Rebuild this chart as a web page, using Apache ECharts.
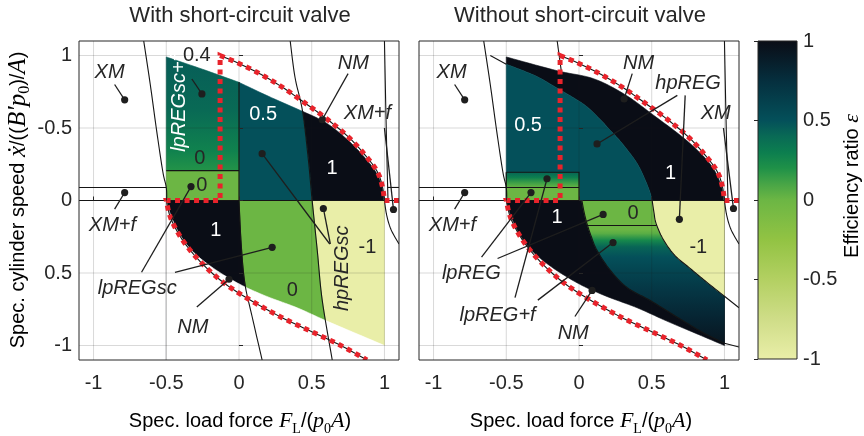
<!DOCTYPE html>
<html>
<head>
<meta charset="utf-8">
<script src="https://cdn.jsdelivr.net/npm/echarts@6/dist/echarts.min.js"></script>
<style>
html,body{margin:0;padding:0;background:#fff;}
#chart{width:864px;height:436px;}
</style>
</head>
<body>
<div id="chart"></div>
<script>
// ---- ticks ----
const xTickValues = [-1, -0.5, 0, 0.5, 1];
const xTickLabels = ['-1', '-0.5', '0', '0.5', '1'];
const yTickValues = [1, 0.5, 0, -0.5, -1];
const yTickLabels = ['1', '-0.5', '0', '0.5', '-1'];
const cbTickValues = [-1, -0.5, 0, 0.5, 1];
const cbTickLabels = ['-1', '-0.5', '0', '0.5', '1'];

// ---- colour map of the efficiency ratio ----
const cmapValues = [-1, -0.75, -0.5, -0.25, 0, 0.1, 0.2, 0.3, 0.4, 0.5, 0.6, 0.75, 0.9, 1];
const cmapColors = ['#e9eea8', '#cfdd88', '#b3d062', '#92c343', '#6cb644', '#48a546', '#1f9148',
                    '#0c7e4f', '#096a55', '#04505a', '#04434f', '#052f3e', '#081a26', '#0a0d16'];

// ---- boundary curves: [load force, speed] (speed axis drawn with +1 at the top) ----
// operating limit (red dotted)
const limitUpper = [[1.0, 0], [0.985, 0.1], [0.95, 0.2], [0.87, 0.31], [0.75, 0.44], [0.6, 0.565],
                    [0.45, 0.675], [0.3, 0.78], [0.15, 0.87], [0, 0.945], [-0.13, 1.0]];
const limitLower = [[-0.5, 0], [-0.47, -0.12], [-0.4, -0.255], [-0.3, -0.385], [-0.18, -0.505],
                    [-0.06, -0.6], [0.1, -0.7], [0.3, -0.81], [0.5, -0.905], [0.7, -1.0], [0.88, -1.1]];
// XM borders
const xmLeft = [[-0.655, 1.1], [-0.61, 0.8], [-0.566, 0.48], [-0.524, 0.2], [-0.5, 0.09], [-0.497, 0]];
const xmRightUp = [[1.0, 1.1], [1.01, 0.6], [1.022, 0.09], [1.025, 0]];
const xmRightLow = [[1.0, 0], [1.015, -0.1], [1.045, -0.2], [1.1, -0.3]];
// lower edge of the reachable region
const reachLower = [[-0.5, 0], [-0.47, -0.1], [-0.41, -0.23], [-0.32, -0.35], [-0.2, -0.45], [-0.07, -0.535],
                    [0.05, -0.6], [0.2, -0.665], [0.4, -0.74], [0.6, -0.83], [0.8, -0.915], [1.0, -1.0]];

// with short-circuit valve
const scTop = [[-0.5, 0.99], [-0.25, 0.905], [0, 0.815], [0.2, 0.72], [0.437, 0.615]];
const scHpBorder = [[0.352, 1.1], [0.385, 0.85], [0.437, 0.615], [0.475, 0.3], [0.503, 0],
                    [0.538, -0.344], [0.572, -0.687], [0.641, -1.1]];
const scNmTop = [[0.437, 0.615], [0.6, 0.535], [0.75, 0.415], [0.87, 0.29], [0.95, 0.18], [0.985, 0.08], [0.995, 0]];
const scLpBorder = [[0, 0], [0.015, -0.3], [0.04, -0.57], [0.09, -0.8], [0.159, -1.1]];
const scFreeTop = 0.206;

// without short-circuit valve
const nsTop = [[-0.5, 0.99], [-0.15, 0.895], [0.1, 0.84], [0.317, 0.73], [0.51, 0.59], [0.745, 0.41],
               [0.903, 0.25], [0.975, 0.11], [0.995, 0]];
const nsHpBorder = [[-0.5, 0.94], [-0.3, 0.86], [-0.15, 0.775], [0.03, 0.665], [0.13, 0.575], [0.214, 0.485],
                    [0.3, 0.39], [0.4, 0.255], [0.46, 0.13], [0.49, 0.05], [0.503, 0]];
const nsFreeBorder = [[0.02, 0], [0.035, -0.08], [0.055, -0.16], [0.085, -0.25], [0.124, -0.344], [0.214, -0.48],
                      [0.33, -0.6], [0.49, -0.69], [0.7, -0.82], [0.85, -0.91], [1.0, -0.985]];
const nsHpLower = [[0.503, 0], [0.515, -0.08], [0.53, -0.158], [0.58, -0.27], [0.66, -0.38], [0.766, -0.47],
                   [0.88, -0.565], [1.0, -0.66]];
const nsBandTop = 0.195, nsBandMid = 0.09, nsBandLow = -0.172;

// efficiency ratios of the regions
const effLpREG = 1, effHpREG = 0.5, effFree = 0, effHpREGsc = -1;
// efficiency along speed inside graded regions: [speed, efficiency]
const gradScFree = [[0.99, 0.45], [0.62, 0.4], [0.34, 0.28], [0.206, 0.19]];
const gradNsBand = [[0.195, 0.42], [0.16, 0.3], [0.12, 0.12], [0.09, 0.02]];
const gradNsFree = [[0, 0], [-0.2, 0], [-0.227, 0.05], [-0.275, 0.25], [-0.32, 0.42], [-0.39, 0.5],
                    [-0.5, 0.6], [-0.62, 0.7], [-0.8, 0.82], [-1.0, 0.95]];

// ---- annotations: text anchor and pointer segments [x0, y0, dotX, dotY] ----
const notesSc = [
  { text: 'XM', at: [-0.89, 0.88], it: 1, ptr: [[-0.855, 0.80, -0.786, 0.694]] },
  { text: 'XM+f', at: [-0.87, -0.17], it: 1, ptr: [[-0.855, -0.06, -0.786, 0.055]] },
  { text: 'lpREGsc+f', at: [-0.407, 0.667], it: 1, white: 1, rot: 1, ptr: [[-0.324, 0.838, -0.255, 0.735]] },
  { text: '0.4', at: [-0.29, 0.997] },
  { text: '0', at: [-0.27, 0.289] },
  { text: '0', at: [-0.255, 0.103] },
  { text: '0.5', at: [0.166, 0.59], white: 1 },
  { text: '1', at: [0.64, 0.22], white: 1 },
  { text: 'NM', at: [0.786, 0.948], it: 1, ptr: [[0.75, 0.875, 0.572, 0.557]] },
  { text: 'XM+f', at: [0.883, 0.598], it: 1, ptr: [[1.0, 0.5, 1.062, -0.062]] },
  { text: '1', at: [-0.16, -0.206], white: 1 },
  { text: 'lpREGsc', at: [-0.70, -0.605], it: 1, ptr: [[-0.67, -0.495, -0.33, 0.096], [-0.44, -0.495, 0.228, -0.323]] },
  { text: 'NM', at: [-0.317, -0.873], it: 1, ptr: [[-0.29, -0.735, -0.069, -0.543]] },
  { text: '0', at: [0.366, -0.62] },
  { text: 'hpREGsc', at: [0.71, -0.467], it: 1, rot: 1, ptr: [[0.628, -0.30, 0.58, -0.055], [0.624, -0.30, 0.159, 0.323]] },
  { text: '-1', at: [0.883, -0.323] }
];
const notesNs = [
  { text: 'XM', at: [-0.876, 0.88], it: 1, ptr: [[-0.855, 0.80, -0.786, 0.694]] },
  { text: 'XM+f', at: [-0.87, -0.17], it: 1, ptr: [[-0.855, -0.06, -0.786, 0.055]] },
  { text: '0.5', at: [-0.35, 0.515], white: 1 },
  { text: 'NM', at: [0.41, 0.948], it: 1, ptr: [[0.366, 0.875, 0.31, 0.70]] },
  { text: 'hpREG', at: [0.75, 0.81], it: 1, ptr: [[0.676, 0.725, 0.124, 0.39], [0.73, 0.725, 0.69, -0.13]] },
  { text: 'XM', at: [0.94, 0.6], it: 1, ptr: [[0.993, 0.5, 1.062, -0.055]] },
  { text: '1', at: [0.63, 0.185], white: 1 },
  { text: '1', at: [-0.15, -0.115], white: 1 },
  { text: '0', at: [0.372, -0.09] },
  { text: '-1', at: [0.82, -0.323] },
  { text: 'lpREG', at: [-0.74, -0.5], it: 1, ptr: [[-0.67, -0.39, -0.33, 0.055], [-0.56, -0.40, 0.166, -0.096]] },
  { text: 'lpREG+f', at: [-0.56, -0.79], it: 1, ptr: [[-0.44, -0.67, -0.22, 0.15], [-0.283, -0.687, 0.234, -0.29]] },
  { text: 'NM', at: [-0.04, -0.914], it: 1, ptr: [[-0.028, -0.80, 0.09, -0.62]] }
];

// ---- helpers ----
const INK = '#262626';
const FONT = '"Liberation Sans", Arial, sans-serif';
const MATH = '"Liberation Serif", serif';
const FS = 20;

function rgb(h) { const n = parseInt(h.slice(1), 16); return [(n >> 16) & 255, (n >> 8) & 255, n & 255]; }
function cmap(v) {
  if (v <= cmapValues[0]) return cmapColors[0];
  for (let i = 1; i < cmapValues.length; i++) {
    if (v <= cmapValues[i]) {
      const t = (v - cmapValues[i - 1]) / (cmapValues[i] - cmapValues[i - 1]);
      const a = rgb(cmapColors[i - 1]), b = rgb(cmapColors[i]);
      return 'rgb(' + a.map((c, k) => Math.round(c + (b[k] - c) * t)).join(',') + ')';
    }
  }
  return cmapColors[cmapColors.length - 1];
}
const rev = a => a.slice().reverse();
const between = (a, lo, hi) => a.filter(p => p[1] >= lo && p[1] <= hi);
const C = pts => ({ c: pts });   // a smooth curve piece of an outline

// draws a smooth path through screen points (cubic pieces, Catmull-Rom tangents)
function smoothPx(P) {
  if (P.length < 3) return P;
  const out = [P[0]];
  for (let i = 0; i < P.length - 1; i++) {
    const p0 = P[Math.max(i - 1, 0)], p1 = P[i], p2 = P[i + 1], p3 = P[Math.min(i + 2, P.length - 1)];
    const b1 = [p1[0] + (p2[0] - p0[0]) / 6, p1[1] + (p2[1] - p0[1]) / 6];
    const b2 = [p2[0] - (p3[0] - p1[0]) / 6, p2[1] - (p3[1] - p1[1]) / 6];
    for (let k = 1; k <= 10; k++) {
      const t = k / 10, u = 1 - t;
      out.push([u * u * u * p1[0] + 3 * u * u * t * b1[0] + 3 * u * t * t * b2[0] + t * t * t * p2[0],
                u * u * u * p1[1] + 3 * u * u * t * b1[1] + 3 * u * t * t * b2[1] + t * t * t * p2[1]]);
    }
  }
  return out;
}
function outlinePx(api, parts) {
  const out = [];
  parts.forEach(q => {
    if (q.c) out.push(...smoothPx(q.c.map(p => api.coord(p))));
    else out.push(api.coord(q));
  });
  return out;
}

// filled regions, drawn in order
const regionsSc = [
  { parts: [C(scNmTop), C(rev(between(scHpBorder, 0, 0.615)))], v: effLpREG },
  { parts: [[0, 0], C(scTop.filter(p => p[0] >= 0)), C(between(scHpBorder, 0, 0.615))], v: effHpREG },
  { parts: [[-0.5, scFreeTop], C(scTop.filter(p => p[0] <= 0)), [0, scFreeTop]], grad: gradScFree },
  { parts: [[-0.5, 0], [-0.5, scFreeTop], [0, scFreeTop], [0, 0]], v: effFree },
  { parts: [C(reachLower), [1.0, 0]], v: effHpREGsc },
  { parts: [C(scLpBorder), C(rev(between(scHpBorder, -2, 0)))], v: effFree },
  { parts: [[-0.5, 0], C(scLpBorder), [-0.5, -1.1]], v: effLpREG },
  { parts: [C(reachLower), [1.0, -1.2], [-0.5, -1.2]], fill: '#ffffff' }
];
const regionsNs = [
  { parts: [C(nsTop), C(rev(nsHpBorder))], v: effLpREG },
  { parts: [[-0.5, 0], C(nsHpBorder)], v: effHpREG },
  { parts: [[-0.5, nsBandMid], [-0.5, nsBandTop], [0, nsBandTop], [0, nsBandMid]], grad: gradNsBand },
  { parts: [[-0.5, 0], [-0.5, nsBandMid], [0, nsBandMid], [0, 0]], v: effFree },
  { parts: [C(reachLower), [1.0, 0]], v: effLpREG },
  { parts: [C(nsFreeBorder), C(rev(nsHpLower))], grad: gradNsFree },
  { parts: [C(nsHpLower), [1.0, 0]], v: effHpREGsc }
];

// thin black borders
const linesSc = [
  [[-1.1, 0], [1.1, 0]], [[-1.1, 0.09], [-0.5, 0.09]], [[1.022, 0.09], [1.1, 0.09]],
  [C(xmLeft)], [C(xmRightUp)], [C(xmRightLow)], [C(scHpBorder)], [C(scLpBorder)],
  [[-0.5, scFreeTop], [0, scFreeTop]], [[0, 0], [0, 0.815]],
  [C(limitUpper)], [C(limitLower)]
];
const linesNs = [
  [[-1.1, 0], [1.1, 0]], [[-1.1, nsBandMid], [0, nsBandMid]],
  [[-0.5, nsBandTop], [0, nsBandTop], [0, 0]], [[-0.5, nsBandTop], [-0.5, 0]],
  [C(xmLeft)], [C(xmRightUp)], [C(xmRightLow)], [[-0.61, 1.0], [-0.5, 0.94]], [[-0.15, 1.1], [-0.12, 0.88]],
  [C(nsFreeBorder), [1.1, -1.01]], [C(nsHpLower), [1.1, -0.74]], [[0.058, nsBandLow], [0.535, nsBandLow]],
  [C(limitUpper)], [C(limitLower)]
];
const limitParts = [[1.1, 0], C(limitUpper), [-0.13, 0], C(limitLower)];

function gradientFill(api, stops) {
  const y0 = api.coord([0, stops[0][0]])[1];
  const y1 = api.coord([0, stops[stops.length - 1][0]])[1];
  return new echarts.graphic.LinearGradient(0, y0, 0, y1,
    stops.map(s => ({ offset: (api.coord([0, s[0]])[1] - y0) / (y1 - y0), color: cmap(s[1]) })), true);
}

function regionSeries(i, regions) {
  return {
    type: 'custom', xAxisIndex: i, yAxisIndex: i, z: 2, silent: true, clip: true,
    data: regions.map(() => [0, 0]),
    renderItem(params, api) {
      const r = regions[params.dataIndex];
      const fill = r.grad ? gradientFill(api, r.grad) : (r.fill || cmap(r.v));
      return { type: 'polygon', shape: { points: outlinePx(api, r.parts) },
               style: { fill: fill, stroke: fill, lineWidth: 0.6 } };
    }
  };
}
function gridSeries(i) {
  const segs = [...xTickValues.map(x => [[x, -1.1], [x, 1.1]]), ...yTickValues.map(y => [[-1.1, y], [1.1, y]])];
  return {
    type: 'custom', xAxisIndex: i, yAxisIndex: i, z: 3, silent: true, clip: true,
    data: segs.map(() => [0, 0]),
    renderItem(params, api) {
      return { type: 'polyline', shape: { points: segs[params.dataIndex].map(p => api.coord(p)) },
               style: { stroke: 'rgba(30,30,30,0.17)', lineWidth: 1, fill: null } };
    }
  };
}
function lineSeries(i, lines) {
  return {
    type: 'custom', xAxisIndex: i, yAxisIndex: i, z: 4, silent: true, clip: true,
    data: lines.map(() => [0, 0]),
    renderItem(params, api) {
      return { type: 'polyline', shape: { points: outlinePx(api, lines[params.dataIndex]) },
               style: { stroke: '#151515', lineWidth: 1.1, fill: null } };
    }
  };
}
function limitSeries(i) {
  return {
    type: 'custom', xAxisIndex: i, yAxisIndex: i, z: 5, silent: true, clip: true,
    data: [[0, 0]],
    renderItem(params, api) {
      return { type: 'polyline', shape: { points: outlinePx(api, limitParts) },
               style: { stroke: '#e8232b', lineWidth: 5, lineDash: [5, 4.5], lineJoin: 'miter', fill: null } };
    }
  };
}
function noteSeries(i, notes) {
  return {
    type: 'custom', xAxisIndex: i, yAxisIndex: i, z: 6, silent: true, clip: false,
    data: notes.map(() => [0, 0]),
    renderItem(params, api) {
      const n = notes[params.dataIndex];
      const children = [];
      (n.ptr || []).forEach(s => {
        const a = api.coord([s[0], s[1]]), b = api.coord([s[2], s[3]]);
        children.push({ type: 'line', shape: { x1: a[0], y1: a[1], x2: b[0], y2: b[1] },
                        style: { stroke: '#1e1e1e', lineWidth: 1.3 } });
        children.push({ type: 'circle', shape: { cx: b[0], cy: b[1], r: 3.6 }, style: { fill: '#1e1e1e' } });
      });
      const c = api.coord(n.at);
      children.push({ type: 'text', x: c[0], y: c[1], rotation: n.rot ? Math.PI / 2 : 0,
        style: { text: n.text, fill: n.white ? '#ffffff' : INK, fontSize: FS, fontFamily: FONT,
                 fontStyle: n.it ? 'italic' : 'normal', align: 'center', verticalAlign: 'middle' } });
      return { type: 'group', children };
    }
  };
}
function colorbarSeries() {
  return {
    type: 'custom', xAxisIndex: 2, yAxisIndex: 2, z: 2, silent: true,
    data: [[0, 0]],
    renderItem(params, api) {
      const a = api.coord([0, 1]), b = api.coord([1, -1]);
      const fill = new echarts.graphic.LinearGradient(0, a[1], 0, b[1],
        cmapValues.map((v, k) => ({ offset: (1 - v) / 2, color: cmapColors[k] })).reverse(), true);
      return { type: 'rect', shape: { x: a[0], y: a[1], width: b[0] - a[0], height: b[1] - a[1] }, style: { fill } };
    }
  };
}

const labelStyle = { fontSize: FS, color: INK, fontFamily: FONT };
function panelX(i) {
  return { gridIndex: i, type: 'value', min: -1.1, max: 1.1, z: 8,
    splitLine: { show: false }, axisLine: { show: false },
    axisTick: { inside: true, length: 4, customValues: xTickValues, lineStyle: { color: INK } },
    axisLabel: Object.assign({ customValues: xTickValues, margin: 13,
      formatter: v => xTickLabels[xTickValues.indexOf(v)] }, labelStyle) };
}
function panelY(i) {
  return { gridIndex: i, type: 'value', min: -1.1, max: 1.1, z: 8,
    splitLine: { show: false }, axisLine: { show: false },
    axisTick: { inside: true, length: 4, customValues: yTickValues, lineStyle: { color: INK } },
    axisLabel: Object.assign({ customValues: yTickValues, margin: 7, show: i === 0,
      formatter: v => yTickLabels[yTickValues.indexOf(v)] }, labelStyle) };
}
const gridBox = { show: true, z: 9, borderColor: INK, borderWidth: 1, backgroundColor: 'transparent', outerBoundsMode: 'none', containLabel: false };

function richSet(mathSize) {
  return {
    a: { fontFamily: FONT, fontSize: FS, color: INK, lineHeight: 30 },
    m: { fontFamily: MATH, fontStyle: 'italic', fontSize: mathSize, color: INK, lineHeight: 30 },
    s: { fontFamily: MATH, fontSize: Math.round(mathSize * 0.64), color: INK, lineHeight: 15, verticalAlign: 'bottom' }
  };
}
const xName = '{a|Spec. load force }{m|F}{s|L}{a|/(}{m|p}{s|0}{m|A}{a|)}';
const yName = '{a|Spec. cylinder speed }{m|ẋ}{a|/((}{m|B′p}{s|0}{a|)/}{m|A}{a|)}';
const cbName = '{a|Efficiency ratio }{m|ε}';

function label(x, y, text, rot, mathSize) {
  return { type: 'text', x, y, rotation: rot ? Math.PI / 2 : 0, z: 10,
           style: { text, rich: richSet(mathSize || 22), align: 'center', verticalAlign: 'middle' } };
}

const option = {
  animation: false,
  backgroundColor: '#ffffff',
  grid: [
    Object.assign({ left: 79, top: 41, width: 320, height: 319 }, gridBox),
    Object.assign({ left: 419, top: 41, width: 320, height: 319 }, gridBox),
    Object.assign({ left: 758, top: 41, width: 39, height: 318 }, gridBox)
  ],
  xAxis: [panelX(0), panelX(1), { gridIndex: 2, type: 'value', min: 0, max: 1, show: false }],
  yAxis: [panelY(0), panelY(1), {
    gridIndex: 2, type: 'value', min: -1, max: 1, interval: 0.5, position: 'right', z: 8,
    splitLine: { show: false }, axisLine: { show: false },
    axisTick: { inside: true, length: 4, lineStyle: { color: INK } },
    axisLabel: Object.assign({ margin: 6, formatter: v => cbTickLabels[cbTickValues.indexOf(v)] }, labelStyle)
  }],
  graphic: [
    { type: 'text', x: 240, y: 16, style: { text: 'With short-circuit valve', font: '22px ' + FONT, fill: INK, align: 'center', verticalAlign: 'middle' } },
    { type: 'text', x: 580, y: 16, style: { text: 'Without short-circuit valve', font: '22px ' + FONT, fill: INK, align: 'center', verticalAlign: 'middle' } },
    label(240, 421, xName), label(581, 421, xName),
    label(18, 200, yName, true, 25),
    label(852, 186, cbName, true)
  ],
  series: [
    regionSeries(0, regionsSc), gridSeries(0), lineSeries(0, linesSc), limitSeries(0), noteSeries(0, notesSc),
    regionSeries(1, regionsNs), gridSeries(1), lineSeries(1, linesNs), limitSeries(1), noteSeries(1, notesNs),
    colorbarSeries()
  ]
};

const chart = echarts.init(document.getElementById('chart'));
chart.setOption(option);
</script>
</body>
</html>
